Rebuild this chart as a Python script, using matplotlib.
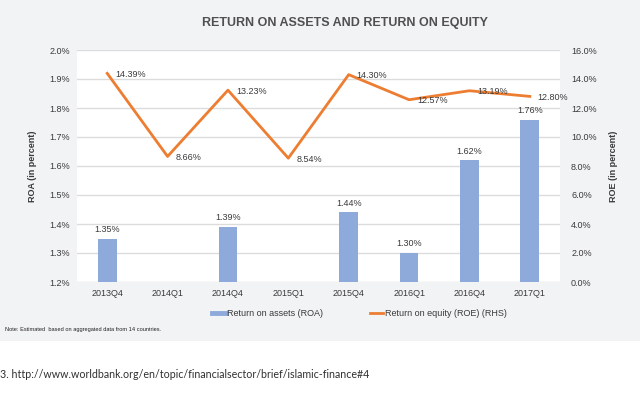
import numpy as np
import matplotlib.pyplot as plt
from matplotlib.lines import Line2D
from matplotlib.patches import Rectangle

plt.rcParams['font.family'] = ['Liberation Sans', 'DejaVu Sans']

# data
quarters = ['2013Q4', '2014Q1', '2014Q4', '2015Q1', '2015Q4', '2016Q1', '2016Q4', '2017Q1']
roa = [1.35, np.nan, 1.39, np.nan, 1.44, 1.30, 1.62, 1.76]
roe = [14.39, 8.66, 13.23, 8.54, 14.30, 12.57, 13.19, 12.80]
roa_ticks = [1.2, 1.3, 1.4, 1.5, 1.6, 1.7, 1.8, 1.9, 2.0]
roe_ticks = [0, 2, 4, 6, 8, 10, 12, 14, 16]

bar_color = '#8eaadb'
line_color = '#ed7d31'
text_color = '#3a3a3a'
bg = '#f2f3f5'

fig = plt.figure(figsize=(6.4, 4.01), dpi=100)
fig.patch.set_facecolor('white')
# grey panel behind the chart
fig.add_artist(Rectangle((0, 1 - 341 / 401), 1, 341 / 401, transform=fig.transFigure,
                         facecolor=bg, edgecolor='none', zorder=-10))

ax = fig.add_axes([77 / 640, 1 - 282 / 401, 483 / 640, 232 / 401])
ax.set_facecolor('white')
x = np.arange(len(quarters))

ax.bar(x, roa, width=0.31, color=bar_color, zorder=2)
ax.set_ylim(1.2, 2.0)
ax.set_xlim(-0.5, len(quarters) - 0.5)
ax.set_yticks(roa_ticks)
ax.set_yticklabels([f'{v:.1f}%' for v in roa_ticks])
ax.set_xticks(x)
ax.set_xticklabels(quarters)
ax.grid(axis='y', color='#dcdcdc', lw=1, zorder=0)
ax.tick_params(length=0, labelsize=6.5, colors=text_color, pad=5)
for s in ax.spines.values():
    s.set_visible(False)
ax.set_ylabel('ROA (in percent)', fontsize=6.5, fontweight='bold', color=text_color, labelpad=9)

for xi, v in zip(x, roa):
    if not np.isnan(v):
        ax.annotate(f'{v:.2f}%', (xi, v), xytext=(0, 9), textcoords='offset pixels',
                    ha='center', va='center', fontsize=6.5, color=text_color)

ax2 = ax.twinx()
ax2.plot(x, roe, color=line_color, lw=2, zorder=3)
ax2.set_ylim(0, 16)
ax2.set_yticks(roe_ticks)
ax2.set_yticklabels([f'{v:.1f}%' for v in roe_ticks])
ax2.tick_params(length=0, labelsize=6.5, colors=text_color, pad=8)
for s in ax2.spines.values():
    s.set_visible(False)
ax2.set_ylabel('ROE (in percent)', fontsize=6.5, fontweight='bold', color=text_color, labelpad=9)

for xi, v in zip(x, roe):
    ax2.annotate(f'{v:.2f}%', (xi, v), xytext=(8, -1), textcoords='offset pixels',
                 ha='left', va='center', fontsize=6.5, color=text_color)

fig.text(345 / 640, 1 - 23 / 401, 'RETURN ON ASSETS AND RETURN ON EQUITY',
         ha='center', va='center', fontsize=9, fontweight='bold', color='#505050')

handles = [Line2D([], [], color=bar_color, lw=3.5),
           Line2D([], [], color=line_color, lw=2)]
fig.legend(handles, ['Return on assets (ROA)', 'Return on equity (ROE) (RHS)'],
           loc='center left', bbox_to_anchor=(204 / 640, 1 - 314 / 401), ncol=2,
           frameon=False, fontsize=6.5, handlelength=1.5, handletextpad=0.2,
           columnspacing=5.1, labelcolor=text_color)

fig.text(5 / 640, 1 - 330 / 401, 'Note: Estimated  based on aggregated data from 14 countries.',
         ha='left', va='center', fontsize=4.1, color='#202020')

fig.text(0, 1 - 375 / 401,
         '3. http://www.worldbank.org/en/topic/financialsector/brief/islamic-finance#4',
         ha='left', va='center', fontsize=7.7, color='#303030', family='Lato')

fig.savefig('out.png', dpi=100)
